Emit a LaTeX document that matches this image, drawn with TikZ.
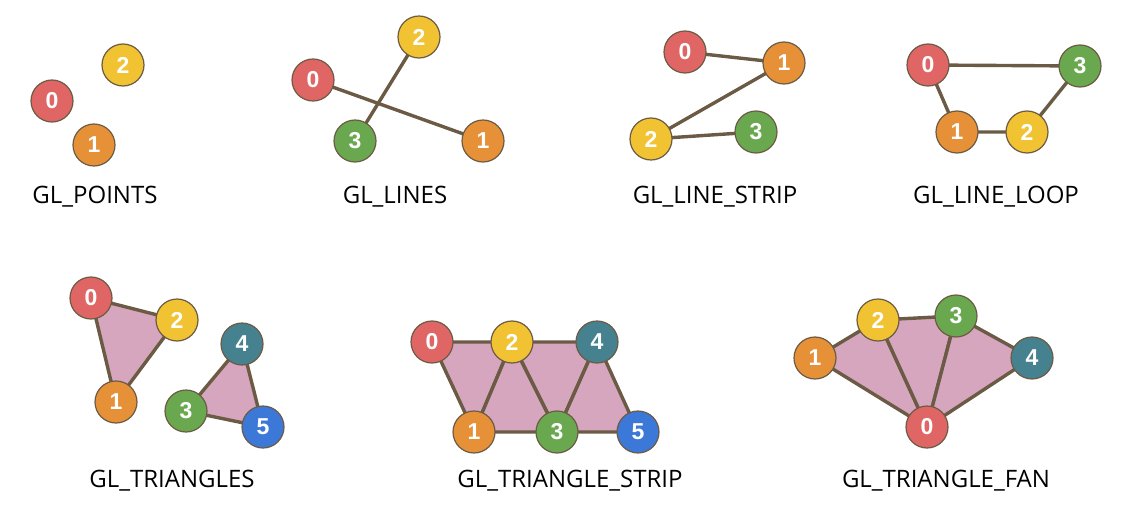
\documentclass[tikz,border=0pt]{standalone}
\usepackage{fontspec}
\setmainfont{Open Sans}
\newfontfamily\digitfont{Liberation Sans}
\definecolor{cred}{HTML}{E06666}
\definecolor{corange}{HTML}{E69138}
\definecolor{cyellow}{HTML}{F1C232}
\definecolor{cgreen}{HTML}{6AA84F}
\definecolor{cteal}{HTML}{45818E}
\definecolor{cblue}{HTML}{3C78D8}
\definecolor{edgec}{HTML}{6B5B45}
\definecolor{fillc}{HTML}{D5A6BD}
\begin{document}
\begin{tikzpicture}[x=1pt,y=-1pt,
  vtx/.style={circle,draw=edgec,line width=1.2pt,minimum size=42pt,inner sep=0pt,
    text=white,font=\digitfont\bfseries\fontsize{23}{23}\selectfont},
  edge/.style={draw=edgec,line width=3.4pt},
  face/.style={fill=fillc,draw=edgec,line width=3.4pt,line join=round},
  lbl/.style={font=\fontsize{24}{28}\selectfont,text=black}]
\useasboundingbox (0,0) rectangle (1138,527);

% ---------- GL_POINTS
\node[vtx,fill=cred] (p0) at (52,101) {0};
\node[vtx,fill=cyellow] (p2) at (123,65) {2};
\node[vtx,fill=corange] (p1) at (94,145) {1};
\node[lbl] (lp) at (95,197) {GL\_POINTS};

% ---------- GL_LINES
\coordinate (c0) at (313,80);
\coordinate (c2) at (419,37);
\coordinate (c3) at (355,141);
\coordinate (c1) at (483,141);
\draw[edge] (c0) -- (c1);
\draw[edge] (c2) -- (c3);
\node[vtx,fill=cred] (l0) at (c0) {0};
\node[vtx,fill=cyellow] (l2) at (c2) {2};
\node[vtx,fill=cgreen] (l3) at (c3) {3};
\node[vtx,fill=corange] (l1) at (c1) {1};
\node[lbl] (ll) at (395,197) {GL\_LINES};

% ---------- GL_LINE_STRIP
\coordinate (s0) at (685,52);
\coordinate (s1) at (784,63);
\coordinate (s2) at (651,139);
\coordinate (s3) at (756,132);
\draw[edge,line join=round] (s0) -- (s1) -- (s2) -- (s3);
\node[vtx,fill=cred] (ls0) at (s0) {0};
\node[vtx,fill=corange] (ls1) at (s1) {1};
\node[vtx,fill=cyellow] (ls2) at (s2) {2};
\node[vtx,fill=cgreen] (ls3) at (s3) {3};
\node[lbl] (lls) at (715,197) {GL\_LINE\_STRIP};

% ---------- GL_LINE_LOOP
\coordinate (o0) at (928,65);
\coordinate (o1) at (957,132);
\coordinate (o2) at (1027,132);
\coordinate (o3) at (1080,66);
\draw[edge,line join=round] (o0) -- (o1) -- (o2) -- (o3) -- cycle;
\node[vtx,fill=cred] (lo0) at (o0) {0};
\node[vtx,fill=corange] (lo1) at (o1) {1};
\node[vtx,fill=cyellow] (lo2) at (o2) {2};
\node[vtx,fill=cgreen] (lo3) at (o3) {3};
\node[lbl] (llo) at (996,197) {GL\_LINE\_LOOP};

% ---------- GL_TRIANGLES
\coordinate (t0) at (91,298);
\coordinate (t1) at (116,402);
\coordinate (t2) at (177,320);
\coordinate (t3) at (186,411);
\coordinate (t4) at (242,344);
\coordinate (t5) at (263,427);
\path[face] (t0) -- (t1) -- (t2) -- cycle;
\path[face] (t3) -- (t4) -- (t5) -- cycle;
\node[vtx,fill=cred] (tr0) at (t0) {0};
\node[vtx,fill=corange] (tr1) at (t1) {1};
\node[vtx,fill=cyellow] (tr2) at (t2) {2};
\node[vtx,fill=cgreen] (tr3) at (t3) {3};
\node[vtx,fill=cteal] (tr4) at (t4) {4};
\node[vtx,fill=cblue] (tr5) at (t5) {5};
\node[lbl] (ltr) at (172,481) {GL\_TRIANGLES};

% ---------- GL_TRIANGLE_STRIP
\coordinate (r0) at (432,342);
\coordinate (r1) at (474,432);
\coordinate (r2) at (512,342);
\coordinate (r3) at (557,432);
\coordinate (r4) at (597,342);
\coordinate (r5) at (638,432);
\path[face] (r0) -- (r1) -- (r2) -- cycle;
\path[face] (r1) -- (r2) -- (r3) -- cycle;
\path[face] (r2) -- (r3) -- (r4) -- cycle;
\path[face] (r3) -- (r4) -- (r5) -- cycle;
\node[vtx,fill=cred] (ts0) at (r0) {0};
\node[vtx,fill=corange] (ts1) at (r1) {1};
\node[vtx,fill=cyellow] (ts2) at (r2) {2};
\node[vtx,fill=cgreen] (ts3) at (r3) {3};
\node[vtx,fill=cteal] (ts4) at (r4) {4};
\node[vtx,fill=cblue] (ts5) at (r5) {5};
\node[lbl] (lts) at (570,481) {GL\_TRIANGLE\_STRIP};

% ---------- GL_TRIANGLE_FAN
\coordinate (f0) at (927,427);
\coordinate (f1) at (815,358);
\coordinate (f2) at (878,320);
\coordinate (f3) at (956,316);
\coordinate (f4) at (1032,358);
\path[face] (f0) -- (f1) -- (f2) -- cycle;
\path[face] (f0) -- (f2) -- (f3) -- cycle;
\path[face] (f0) -- (f3) -- (f4) -- cycle;
\node[vtx,fill=cred] (tf0) at (f0) {0};
\node[vtx,fill=corange] (tf1) at (f1) {1};
\node[vtx,fill=cyellow] (tf2) at (f2) {2};
\node[vtx,fill=cgreen] (tf3) at (f3) {3};
\node[vtx,fill=cteal] (tf4) at (f4) {4};
\node[lbl] (ltf) at (946,481) {GL\_TRIANGLE\_FAN};
\end{tikzpicture}
\end{document}
